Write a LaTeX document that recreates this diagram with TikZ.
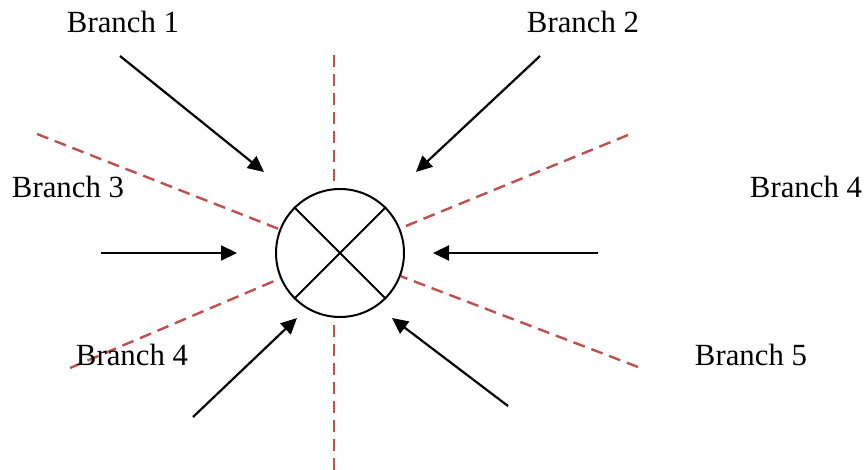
\documentclass[tikz,border=0pt]{standalone}
\usepackage{fontspec}
\setmainfont{Liberation Serif}
\usetikzlibrary{arrows.meta}
\definecolor{cutred}{RGB}{192,80,77}

\begin{document}
\begin{tikzpicture}[x=0.5pt,y=-0.5pt,
  tag/.style={font=\fontsize{15.4}{18}\selectfont, inner sep=0pt, anchor=base},
  feed/.style={line width=1.1pt, -{Triangle[length=8pt,width=7.5pt]}},
  cut/.style={cutred, line width=1.2pt, dash pattern=on 6pt off 3.5pt}]
  \useasboundingbox (0,0) rectangle (867,470);
  \node[draw, circle, line width=1pt, minimum size=64pt, inner sep=0pt] (mix) at (340,253) {};
  \draw[line width=1pt] (mix.45) -- (mix.225) (mix.135) -- (mix.315);
  % dividing lines
  \coordinate (vtop) at (334,55);
  \coordinate (vbot) at (334,470);
  \coordinate (ul) at (37,134);
  \coordinate (ll) at (70,368);
  \coordinate (ur) at (628,135);
  \coordinate (lr) at (638,367);
  \draw[cut] (vtop) -- (vtop |- mix.north);
  \draw[cut] (vbot) -- (vbot |- mix.south);
  \foreach \n in {ul,ll,ur,lr}
    \draw[cut] (\n) -- (mix);
  % branches
  \coordinate (s1) at (120,56);  \coordinate (e1) at (264,172);
  \coordinate (s2) at (540,56);  \coordinate (e2) at (416,172);
  \coordinate (s3) at (101,253); \coordinate (e3) at (237,253);
  \coordinate (s4) at (598,253); \coordinate (e4) at (433,253);
  \coordinate (s5) at (193,417); \coordinate (e5) at (297,318);
  \coordinate (s6) at (508,406); \coordinate (e6) at (392,318);
  \foreach \n in {1,...,6}
    \draw[feed] (s\n) -- (e\n);
  \node[tag] (l1) at (123,33) {Branch 1};
  \node[tag] (l2) at (583,33) {Branch 2};
  \node[tag] (l3) at (68,198) {Branch 3};
  \node[tag] (l4) at (806,198) {Branch 4};
  \node[tag] (l5) at (132,365) {Branch 4};
  \node[tag] (l6) at (751,365) {Branch 5};
\end{tikzpicture}
\end{document}
